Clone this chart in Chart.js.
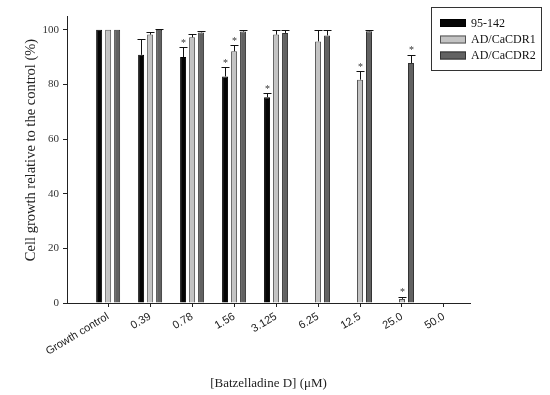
<!DOCTYPE html>
<html>
<head>
<meta charset="utf-8">
<script src="https://cdn.jsdelivr.net/npm/chart.js@4"></script>
<style>
  body { margin: 0; background: #fff; }
</style>
</head>
<body>
<canvas id="myChart" width="550" height="395"></canvas>
<script>
let concLabels = ['Growth control', '0.39', '0.78', '1.56', '3.125', '6.25', '12.5', '25.0', '50.0']
let seriesNames = ['95-142', 'AD/CaCDR1', 'AD/CaCDR2']
let values95 = [100, 90.8, 90.0, 82.9, 75.3, 0, 0, 0, 0]
let valuesCDR1 = [100, 98.2, 97.2, 92.1, 98.2, 95.7, 81.7, 1.5, 0]
let valuesCDR2 = [100, 100, 99.0, 99.3, 98.8, 97.9, 99.4, 87.8, 0]
let err95 = [0, 5.8, 3.7, 3.3, 1.5, 0, 0, 0, 0]
let errCDR1 = [0, 1.1, 1.3, 2.2, 1.8, 4.1, 3.0, 0.8, 0]
let errCDR2 = [0, 0.3, 0.5, 0.7, 1.2, 2.1, 0.6, 3.0, 0]
let star95 = [0, 0, 1, 1, 1, 0, 0, 0, 0]
let starCDR1 = [0, 0, 0, 1, 0, 0, 1, 1, 0]
let starCDR2 = [0, 0, 0, 0, 0, 0, 0, 1, 0]
let yTicks = [0, 20, 40, 60, 80, 100]
let yTitle = 'Cell growth relative to the control (%)'
let xTitle = '[Batzelladine D] (μM)'

const serif = 'Liberation Serif'

function toPoints(arr) {
    return arr.map((v, i) => ({ x: i, y: v }))
}

// error bars + significance stars on top of each bar
const errorBars = {
    id: 'errorBars',
    afterDatasetsDraw(chart) {
        const ctx = chart.ctx
        const yScale = chart.scales.y
        ctx.save()
        ctx.strokeStyle = '#111'
        ctx.fillStyle = '#333'
        ctx.lineWidth = 1
        ctx.font = '10px ' + serif
        ctx.textAlign = 'center'
        ctx.textBaseline = 'bottom'
        chart.data.datasets.forEach((ds, d) => {
            chart.getDatasetMeta(d).data.forEach((bar, i) => {
                let e = ds.errors[i]
                let v = ds.data[i].y
                let x = Math.round(bar.x) + 0.5
                let yTop = yScale.getPixelForValue(v + e)
                if (e > 0) {
                    let yc = Math.round(yTop) + 0.5
                    ctx.beginPath()
                    ctx.moveTo(x, bar.y)
                    ctx.lineTo(x, yc)
                    ctx.moveTo(x - 4, yc)
                    ctx.lineTo(x + 4, yc)
                    ctx.stroke()
                }
                if (ds.stars[i]) {
                    ctx.fillText('*', x, yTop + 1)
                }
            })
        })
        ctx.restore()
    }
}

// boxed legend in the top right corner + y title placed like the original
const boxLegend = {
    id: 'boxLegend',
    afterDraw(chart) {
        const ctx = chart.ctx
        ctx.save()
        ctx.strokeStyle = '#333'
        ctx.lineWidth = 1
        ctx.strokeRect(431.5, 7.5, 110, 63)
        ctx.font = '12px ' + serif
        ctx.textBaseline = 'middle'
        ctx.textAlign = 'left'
        let rows = [23, 39.5, 55.5]
        chart.data.datasets.forEach((ds, d) => {
            let y = rows[d]
            ctx.fillStyle = ds.backgroundColor
            ctx.fillRect(440, y - 4, 26, 8)
            ctx.strokeStyle = ds.borderColor
            ctx.strokeRect(440.5, y - 3.5, 25, 7)
            ctx.fillStyle = '#111'
            ctx.fillText(ds.label, 471, y + 0.5)
        })

        ctx.translate(31, 150)
        ctx.rotate(-Math.PI / 2)
        ctx.textAlign = 'center'
        ctx.fillStyle = '#222'
        ctx.font = '14.5px ' + serif
        ctx.fillText(yTitle, 0, 0)
        ctx.restore()
    }
}

let ctx = document.getElementById('myChart').getContext('2d')
let myChart = new Chart(ctx, {
    type: 'bar',
    data: {
        datasets: [{
            label: seriesNames[0],
            data: toPoints(values95),
            errors: err95,
            stars: star95,
            backgroundColor: '#050505',
            borderColor: '#000'
        }, {
            label: seriesNames[1],
            data: toPoints(valuesCDR1),
            errors: errCDR1,
            stars: starCDR1,
            backgroundColor: '#c3c3c3',
            borderColor: '#555'
        }, {
            label: seriesNames[2],
            data: toPoints(valuesCDR2),
            errors: errCDR2,
            stars: starCDR2,
            backgroundColor: '#626262',
            borderColor: '#333'
        }]
    },
    options: {
        responsive: false,
        animation: false,
        devicePixelRatio: 1,
        layout: { padding: { top: 16, right: 80, left: 0, bottom: 0 } },
        datasets: {
            bar: {
                categoryPercentage: 0.643,
                barPercentage: 0.667,
                borderWidth: 1
            }
        },
        plugins: {
            legend: { display: false },
            tooltip: { enabled: false }
        },
        scales: {
            x: {
                type: 'linear',
                min: -0.98,
                max: 8.62,
                offset: false,
                grid: { offset: false, drawOnChartArea: false, tickLength: 4, color: '#222' },
                border: { color: '#222', width: 1 },
                afterBuildTicks: s => { s.ticks = concLabels.map((l, i) => ({ value: i })) },
                ticks: {
                    autoSkip: false,
                    minRotation: 31,
                    maxRotation: 31,
                    padding: 3,
                    color: '#222',
                    font: { family: 'Liberation Sans', size: 11 },
                    callback: v => concLabels[v]
                },
                title: {
                    display: true,
                    text: xTitle,
                    color: '#222',
                    font: { family: serif, size: 13 }
                },
                afterFit: s => { s.height = 92 }
            },
            y: {
                min: 0,
                max: 105,
                grid: { drawOnChartArea: false, tickLength: 4, color: '#222' },
                border: { color: '#222', width: 1 },
                afterBuildTicks: s => { s.ticks = yTicks.map(v => ({ value: v })) },
                ticks: {
                    padding: 4,
                    color: '#333',
                    font: { family: serif, size: 11 }
                },
                afterFit: s => { s.width = 67 }
            }
        }
    },
    plugins: [errorBars, boxLegend]
})
</script>
</body>
</html>
